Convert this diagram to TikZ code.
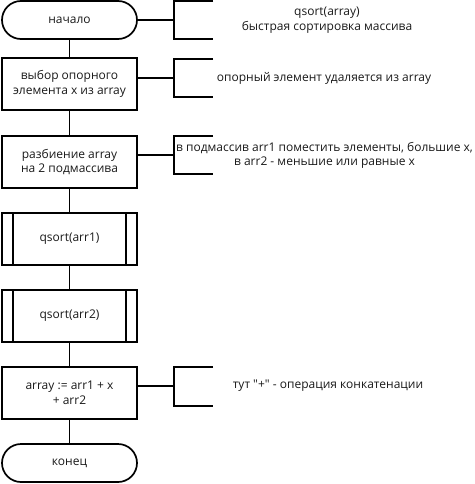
\documentclass[tikz,border=0pt]{standalone}
\usepackage{fontspec}
\setmainfont{Open Sans}[Ligatures=TeXOff]
\begin{document}
\begin{tikzpicture}[x=1pt,y=-1pt,
  every node/.style={font=\fontsize{12}{14.5}\selectfont, text=black!90},
  flow/.style={draw, line width=1.7pt, minimum width=135pt, minimum height=52pt, align=center, inner sep=0pt},
  term/.style={draw, line width=1.7pt, minimum width=135pt, minimum height=38pt, rounded corners=19pt, inner sep=0pt},
  link/.style={line width=1.7pt},
  note/.style={align=center, inner sep=0pt}]
\useasboundingbox (0,0) rectangle (474,484);

\node[term] (start) at (69.5,20) {начало};
\node[flow] (b1) at (69.5,84) {выбор опорного\\элемента x из array};
\node[flow] (b2) at (69.5,162) {разбиение array\\на 2 подмассива};
\node[flow] (b3) at (69.5,239) {qsort(arr1)};
\node[flow] (b4) at (69.5,316) {qsort(arr2)};
\node[flow] (b5) at (69.5,393) {array := arr1 + x\\+ arr2};
\node[term] (end) at (69.5,463) {конец};

\draw[link] ([xshift=12pt]b3.north west) -- ([xshift=12pt]b3.south west);
\draw[link] ([xshift=-12pt]b3.north east) -- ([xshift=-12pt]b3.south east);
\draw[link] ([xshift=12pt]b4.north west) -- ([xshift=12pt]b4.south west);
\draw[link] ([xshift=-12pt]b4.north east) -- ([xshift=-12pt]b4.south east);

\draw[link] (start) -- (b1);
\draw[link] (b1) -- (b2);
\draw[link] (b2) -- (b3);
\draw[link] (b3) -- (b4);
\draw[link] (b4) -- (b5);
\draw[link] (b5) -- (end);

% comments
\coordinate (c1) at (174,20);
\coordinate (c2) at (174,78);
\coordinate (c3) at (174,155);
\coordinate (c5) at (174,386);

\draw[link] (start.east |- c1) -- (c1);
\draw[link] (213,1) -- (174,1) -- (174,39) -- (213,39);
\draw[link] (b1.east |- c2) -- (c2);
\draw[link] (213,59) -- (174,59) -- (174,97) -- (213,97);
\draw[link] (b2.east |- c3) -- (c3);
\draw[link] (213,136) -- (174,136) -- (174,174) -- (213,174);
\draw[link] (b5.east |- c5) -- (c5);
\draw[link] (213,367) -- (174,367) -- (174,406) -- (213,406);

\node[note] (t1) at (327,20) {qsort(array)\\быстрая сортировка массива};
\node[note] (t2) at (324,78) {опорный элемент удаляется из array};
\node[note] (t3) at (324.5,155.5) {в подмассив arr1 поместить элементы, большие x,\\в arr2 - меньшие или равные x};
\node[note] (t5) at (328,386) {тут "+" - операция конкатенации};
\end{tikzpicture}
\end{document}
